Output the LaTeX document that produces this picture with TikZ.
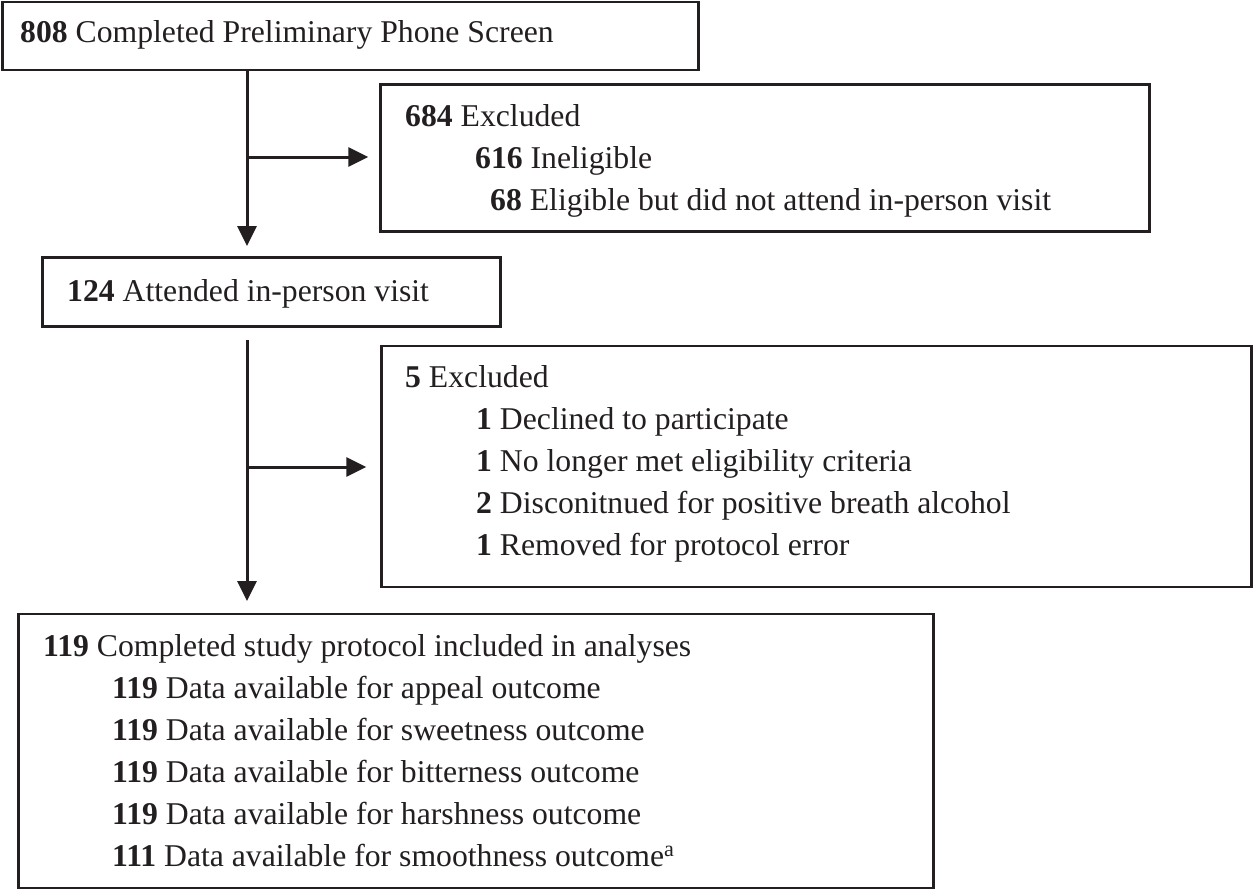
\documentclass[tikz,border=0pt]{standalone}
\usepackage{fontspec}
\setmainfont{Liberation Serif}
\usetikzlibrary{arrows.meta}
\definecolor{ink}{HTML}{231F20}
\begin{document}
\begin{tikzpicture}[x=1pt,y=-1pt,
  box/.style={draw=ink,line width=2.5pt,inner sep=0pt},
  txt/.style={anchor=base west,inner sep=0pt,text=ink,font=\fontsize{31.7pt}{42pt}\selectfont},
  arr/.style={draw=ink,line width=3pt,-{Triangle[length=20pt,width=19pt]}}]
\useasboundingbox (0,0) rectangle (1254,891);
% boxes
\node[box,minimum width=696pt,minimum height=68pt] (b1) at (350.5,36) {};
\node[box,minimum width=769pt,minimum height=147pt] (e1) at (765,158) {};
\node[box,minimum width=458pt,minimum height=69pt] (b2) at (271.5,292) {};
\node[box,minimum width=870pt,minimum height=241pt] (e2) at (816.5,466.5) {};
\node[box,minimum width=915pt,minimum height=274pt] (b3) at (476,751) {};
% texts
\node[txt] (t1) at (20,43) {\textbf{808} Completed Preliminary Phone Screen};
\node[txt] (t2) at (405,126) {\textbf{684} Excluded};
\node[txt] (t3) at (475,168) {\textbf{616} Ineligible};
\node[txt] (t4) at (490,210) {\textbf{68} Eligible but did not attend in-person visit};
\node[txt] (t5) at (67,301) {\textbf{124} Attended in-person visit};
\node[txt] (t6) at (405,387) {\textbf{5} Excluded};
\node[txt] (t7) at (476,429) {\textbf{1} Declined to participate};
\node[txt] (t8) at (476,471) {\textbf{1} No longer met eligibility criteria};
\node[txt] (t9) at (476,513) {\textbf{2} Disconitnued for positive breath alcohol};
\node[txt] (t10) at (476,555) {\textbf{1} Removed for protocol error};
\node[txt] (t11) at (43,656) {\textbf{119} Completed study protocol included in analyses};
\node[txt] (t12) at (112,698) {\textbf{119} Data available for appeal outcome};
\node[txt] (t13) at (112,740) {\textbf{119} Data available for sweetness outcome};
\node[txt] (t14) at (112,782) {\textbf{119} Data available for bitterness outcome};
\node[txt] (t15) at (112,824) {\textbf{119} Data available for harshness outcome};
\node[txt] (t16) at (112,866) {\textbf{111} Data available for smoothness outcome\textsuperscript{a}};
% connectors
\coordinate (s1) at (247,70);
\coordinate (j1) at (247,157);
\coordinate (k1) at (247,246);
\coordinate (s2) at (247,340);
\coordinate (j2) at (247,467);
\coordinate (k2) at (247,601);
\draw[arr] (b1.south -| s1) -- (k1);
\draw[arr] (j1) -- ([xshift=-11pt]e1.west |- j1);
\draw[arr] (s2) -- (k2);
\draw[arr] (j2) -- ([xshift=-14pt]e2.west |- j2);
\end{tikzpicture}
\end{document}
